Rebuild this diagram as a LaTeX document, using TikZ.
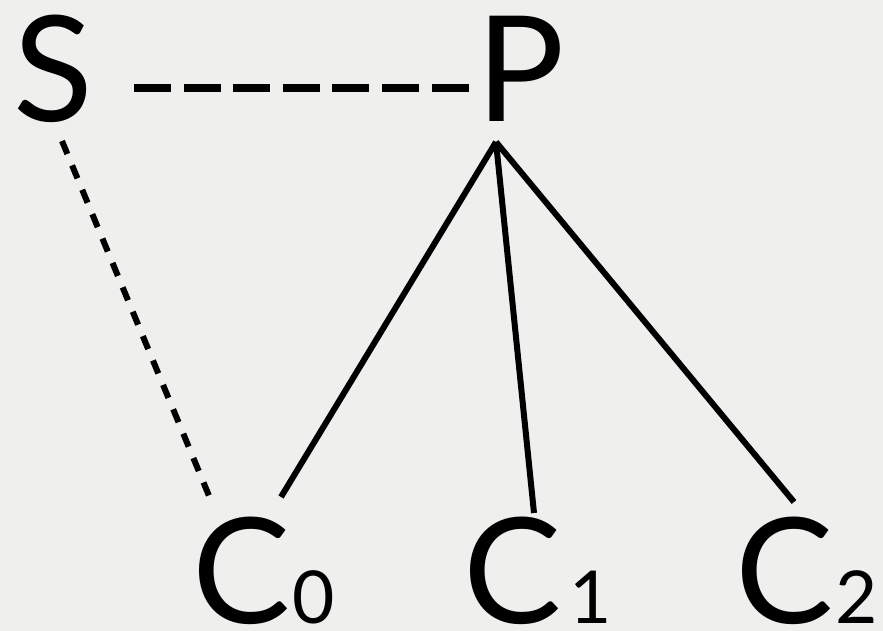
\documentclass[tikz,border=0pt]{standalone}
\usepackage{fontspec}
\setmainfont{Lato}
\newcommand{\bigtxt}{\fontsize{147}{150}\selectfont}
\newcommand{\subtxt}{\fontsize{73}{75}\selectfont}
\definecolor{bg}{HTML}{EFEFEE}
\begin{document}
\begin{tikzpicture}[x=1pt,y=-1pt,
  lbl/.style={inner sep=0pt, outer sep=0pt, anchor=base west, font=\bigtxt},
  solidln/.style={line width=6pt, black},
  dashln/.style={line width=8.5pt, dash pattern=on 37pt off 12.6pt},
  dotln/.style={line width=6pt, dash pattern=on 14pt off 12.4pt}]
\fill[bg] (0,0) rectangle (883,631);
\useasboundingbox (0,0) rectangle (883,631);
\node[lbl] (S) at (13,122) {S};
\node[lbl] (P) at (476,122) {P};
\node[lbl] (C0) at (192,623) {C\hspace{2pt}{\subtxt 0}};
\node[lbl] (C1) at (463,623) {C\hspace{8pt}{\subtxt 1}};
\node[lbl] (C2) at (735,623) {C\hspace{2pt}{\subtxt 2}};
% connector end points
\coordinate (Sr) at (134,88);
\coordinate (Sb) at (62,141);
\coordinate (Pl) at (471,88);
\coordinate (Pb) at (496,142);
\coordinate (c0d) at (212,503);
\coordinate (c0s) at (281,497);
\coordinate (c1s) at (534,513);
\coordinate (c2s) at (794,502);
\draw[dashln] (Sr) -- (Pl);
\draw[dotln] (Sb) -- (c0d);
\draw[solidln] (Pb) -- (c0s);
\draw[solidln] (Pb) -- (c1s);
\draw[solidln] (Pb) -- (c2s);
\end{tikzpicture}
\end{document}
